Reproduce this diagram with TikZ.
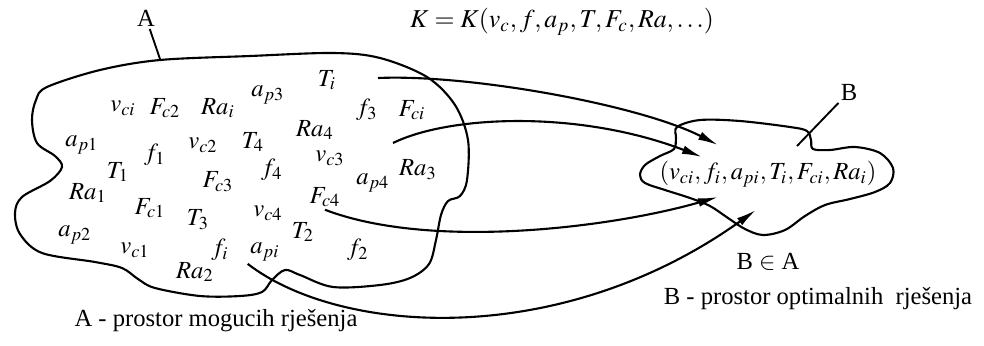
\documentclass[tikz,border=0pt]{standalone}
\usepackage{mathptmx}
\usepackage{fontspec}
\setmainfont{Liberation Serif}
\usetikzlibrary{arrows.meta}

\begin{document}
\begin{tikzpicture}[
  x=0.015cm, y=-0.015cm,
  every node/.style={font=\fontsize{10.5}{12}\selectfont,inner sep=1pt},
  lead/.style={line width=0.8pt},
  arr/.style={-{Latex[length=3mm,width=1.3mm]},line width=0.9pt},
]
\useasboundingbox (0,0) rectangle (984,345);

% prostor A
\draw[line width=0.9pt] plot[smooth cycle,tension=0.55] coordinates {
  (47,87) (100,70) (160,60) (250,56) (333,53) (380,58) (427,77) (455,105)
  (468,140) (467,180) (460,196) (448,201) (441,215) (436,240) (429,264)
  (410,278) (380,285) (333,287) (300,275) (285,270) (272,280) (262,292)
  (240,296) (200,296) (155,288) (138,279) (122,268) (95,262) (42,253)
  (20,234) (15,213) (22,197) (50,181) (62,167) (55,156) (37,143) (32,120)
  (36,100)};

% prostor B
\draw[line width=0.9pt] plot[smooth cycle,tension=0.55] coordinates {
  (677,127) (700,120) (740,121) (790,127) (807,131) (811,140) (813,149)
  (830,150) (855,147) (880,153) (893,168) (890,183) (875,192) (850,199)
  (825,205) (805,216) (785,230) (763,235) (745,229) (728,218) (710,206)
  (690,198) (665,190) (645,183) (640,175) (645,165) (660,156) (674,149)
  (676,138)};

\node (K) at (562,22) {\fontsize{11}{13}\selectfont$K = K(v_c, f, a_p, T, F_c, Ra, \ldots)$};

% oznake
\node (lblA) at (146,18) {A};
\coordinate (tA) at (160,59);
\draw[lead] (lblA) -- (tA);
\node (lblB) at (849,92) {B};
\coordinate (tB) at (797,146);
\draw[lead] (lblB) -- (tB);

% elementi prostora A
\node (vci) at (123,108) {$v_{ci}$};
\node (Fc2) at (165,108) {$F_{c2}$};
\node (Rai) at (218,108) {$Ra_i$};
\node (ap3) at (268,95) {$a_{p3}$};
\node (Ti) at (327,80) {$T_i$};
\node (f3) at (367,110) {$f_3$};
\node (Fci) at (412,110) {$F_{ci}$};
\node (Ra4) at (315,130) {$Ra_4$};
\node (ap1) at (82,145) {$a_{p1}$};
\node (f1) at (155,155) {$f_1$};
\node (vc2) at (203,145) {$v_{c2}$};
\node (T4) at (253,142) {$T_4$};
\node (vc3) at (330,158) {$v_{c3}$};
\node (Ra3) at (418,170) {$Ra_3$};
\node (T1) at (118,172) {$T_1$};
\node (f4) at (272,170) {$f_4$};
\node (Fc3) at (218,182) {$F_{c3}$};
\node (ap4) at (373,183) {$a_{p4}$};
\node (Ra1) at (88,193) {$Ra_1$};
\node (Fc1) at (150,208) {$F_{c1}$};
\node (T3) at (198,220) {$T_3$};
\node (vc4) at (268,213) {$v_{c4}$};
\node (Fc4) at (325,197) {$F_{c4}$};
\node (ap2) at (75,235) {$a_{p2}$};
\node (vc1) at (135,250) {$v_{c1}$};
\node (fi) at (220,250) {$f_i$};
\node (api) at (265,252) {$a_{pi}$};
\node (T2) at (303,232) {$T_2$};
\node (f2) at (358,250) {$f_2$};
\node (Ra2) at (195,272) {$Ra_2$};

% prostor B
\node (Bset) at (768,174) {$(v_{ci}, f_i, a_{pi}, T_i, F_{ci}, Ra_i)$};
\node (BinA) at (768,262) {B $\in$ A};
\node (capB) at (818,299) {B - prostor optimalnih\ \ rješenja};
\node (capA) at (216,321) {A - prostor mogucih rješenja};

% preslikavanje A -> B
\coordinate (s1) at (378,78);
\coordinate (s2) at (393,143);
\coordinate (e1) at (718,145);
\coordinate (e2) at (702,157);
\coordinate (e3) at (718,197);
\coordinate (e4) at (756,210);
\draw[arr] (s1) .. controls (470,74) and (640,105) .. (e1);
\draw[arr] (s2) .. controls (450,115) and (580,110) .. (e2);
\draw[arr] (Fc4.south) .. controls (430,250) and (610,228) .. (e3);
\draw[arr] (api.south west) .. controls (340,335) and (560,350) .. (e4);
\end{tikzpicture}
\end{document}
